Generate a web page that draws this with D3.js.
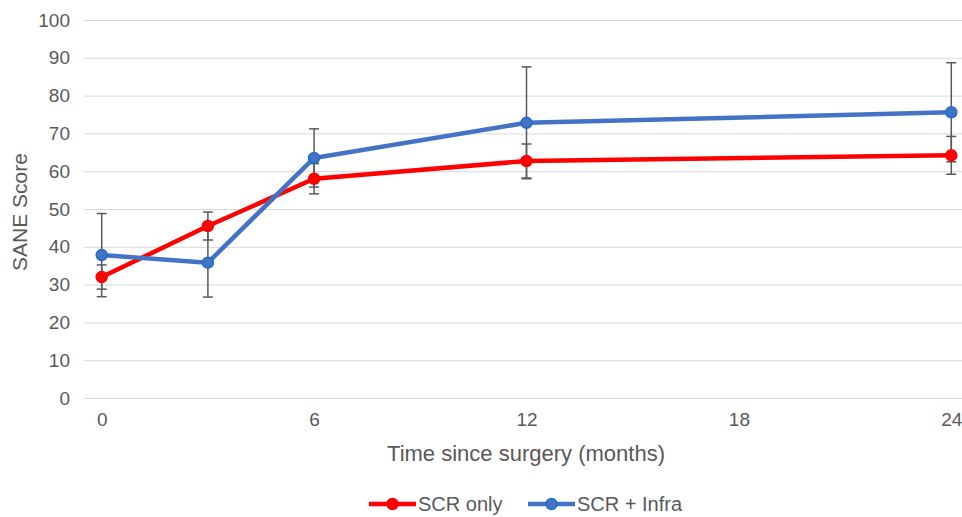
<!DOCTYPE html>
<html>
<head>
<meta charset="utf-8">
<script src="https://cdn.jsdelivr.net/npm/d3@7"></script>
<style>
    body { margin: 0; background: #fff; }
    svg { display: block; font-family: "Liberation Sans", Arial, sans-serif; }
</style>
</head>
<body>
<div id="chart"></div>
<script>
// months after surgery
const months = [0, 3, 6, 12, 24];

const seriesNames = ["SCR only", "SCR + Infra"];
const scrOnly = [32.0, 45.5, 58.0, 62.7, 64.2];
const scrOnlyErr = [3.2, 3.7, 4.0, 4.5, 5.0];
const scrInfra = [37.8, 35.8, 63.5, 72.8, 75.6];
const scrInfraErr = [11.0, 9.1, 7.7, 14.8, 13.1];

const xTicks = [0, 6, 12, 18, 24];
const yTicks = [0, 10, 20, 30, 40, 50, 60, 70, 80, 90, 100];

const width = 962, height = 517;

const svg = d3.select("#chart").append("svg")
    .attr("width", width)
    .attr("height", height);

const xScale = d3.scaleLinear()
    .domain([-0.5, 24.5])
    .range([84, 969]);

const yScale = d3.scaleLinear()
    .domain([0, 100])
    .range([398, 20]);

// gridlines
svg.append("g")
    .attr("class", "grid")
    .selectAll("line")
    .data(yTicks)
    .enter()
    .append("line")
    .attr("x1", 84)
    .attr("x2", width)
    .attr("y1", d => yScale(d) + 0.5)
    .attr("y2", d => yScale(d) + 0.5)
    .attr("stroke", "#d9d9d9")
    .attr("stroke-width", 1);

// y axis
const yAxis = d3.axisLeft(yScale)
    .tickValues(yTicks)
    .tickSize(0)
    .tickPadding(14);

svg.append("g")
    .attr("class", "axis y-axis")
    .attr("transform", "translate(84,0)")
    .call(yAxis)
    .call(g => g.select(".domain").remove())
    .selectAll("text")
    .attr("fill", "#595959")
    .style("font-size", "19px");

// x axis
const xAxis = d3.axisBottom(xScale)
    .tickValues(xTicks)
    .tickSize(0)
    .tickPadding(15);

svg.append("g")
    .attr("class", "axis x-axis")
    .attr("transform", "translate(0,398)")
    .call(xAxis)
    .call(g => g.select(".domain").remove())
    .selectAll("text")
    .attr("fill", "#595959")
    .style("font-size", "19px");

// axis titles
svg.append("text")
    .attr("transform", "translate(27,212) rotate(-90)")
    .attr("text-anchor", "middle")
    .attr("fill", "#595959")
    .style("font-size", "21px")
    .text("SANE Score");

svg.append("text")
    .attr("x", 526)
    .attr("y", 461)
    .attr("text-anchor", "middle")
    .attr("fill", "#595959")
    .style("font-size", "22px")
    .text("Time since surgery (months)");

const series = [
    {name: seriesNames[0], values: scrOnly, err: scrOnlyErr, color: "#ff0000", stroke: "#ff0000"},
    {name: seriesNames[1], values: scrInfra, err: scrInfraErr, color: "#4472c4", stroke: "#1f6fc5"}
];

const line = d3.line()
    .x(d => xScale(d.x))
    .y(d => yScale(d.y));

series.forEach(s => {
    s.points = months.map((m, i) => ({x: m, y: s.values[i], e: s.err[i]}));
});

// error bars
series.forEach(s => {
    const eb = svg.append("g").attr("class", "errorbars");
    eb.selectAll(".bar")
        .data(s.points)
        .enter()
        .append("line")
        .attr("x1", d => xScale(d.x))
        .attr("x2", d => xScale(d.x))
        .attr("y1", d => yScale(d.y + d.e))
        .attr("y2", d => yScale(d.y - d.e))
        .attr("stroke", "#595959")
        .attr("stroke-width", 1.5);
    [1, -1].forEach(sign => {
        eb.selectAll(".cap" + sign)
            .data(s.points)
            .enter()
            .append("line")
            .attr("x1", d => xScale(d.x) - 5)
            .attr("x2", d => xScale(d.x) + 5)
            .attr("y1", d => yScale(d.y + sign * d.e))
            .attr("y2", d => yScale(d.y + sign * d.e))
            .attr("stroke", "#595959")
            .attr("stroke-width", 1.5);
    });
});

// lines + markers
series.forEach(s => {
    svg.append("path")
        .datum(s.points)
        .attr("fill", "none")
        .attr("stroke", s.color)
        .attr("stroke-width", 4.5)
        .attr("stroke-linejoin", "round")
        .attr("d", line);
});

series.forEach(s => {
    svg.append("g")
        .selectAll("circle")
        .data(s.points)
        .enter()
        .append("circle")
        .attr("cx", d => xScale(d.x))
        .attr("cy", d => yScale(d.y))
        .attr("r", 5.5)
        .attr("fill", s.color)
        .attr("stroke", s.stroke)
        .attr("stroke-width", 1.5);
});

// legend
const legendX = [369, 528];
const legend = svg.append("g").attr("class", "legend");
series.forEach((s, i) => {
    const g = legend.append("g").attr("transform", `translate(${legendX[i]},504)`);
    g.append("line")
        .attr("x1", 0).attr("x2", 47)
        .attr("y1", 0).attr("y2", 0)
        .attr("stroke", s.color)
        .attr("stroke-width", 4.5);
    g.append("circle")
        .attr("cx", 23.5).attr("cy", 0)
        .attr("r", 5.5)
        .attr("fill", s.color)
        .attr("stroke", s.stroke)
        .attr("stroke-width", 1.5);
    g.append("text")
        .attr("x", 49)
        .attr("y", 7)
        .attr("fill", "#595959")
        .style("font-size", "20px")
        .text(s.name);
});
</script>
</body>
</html>
